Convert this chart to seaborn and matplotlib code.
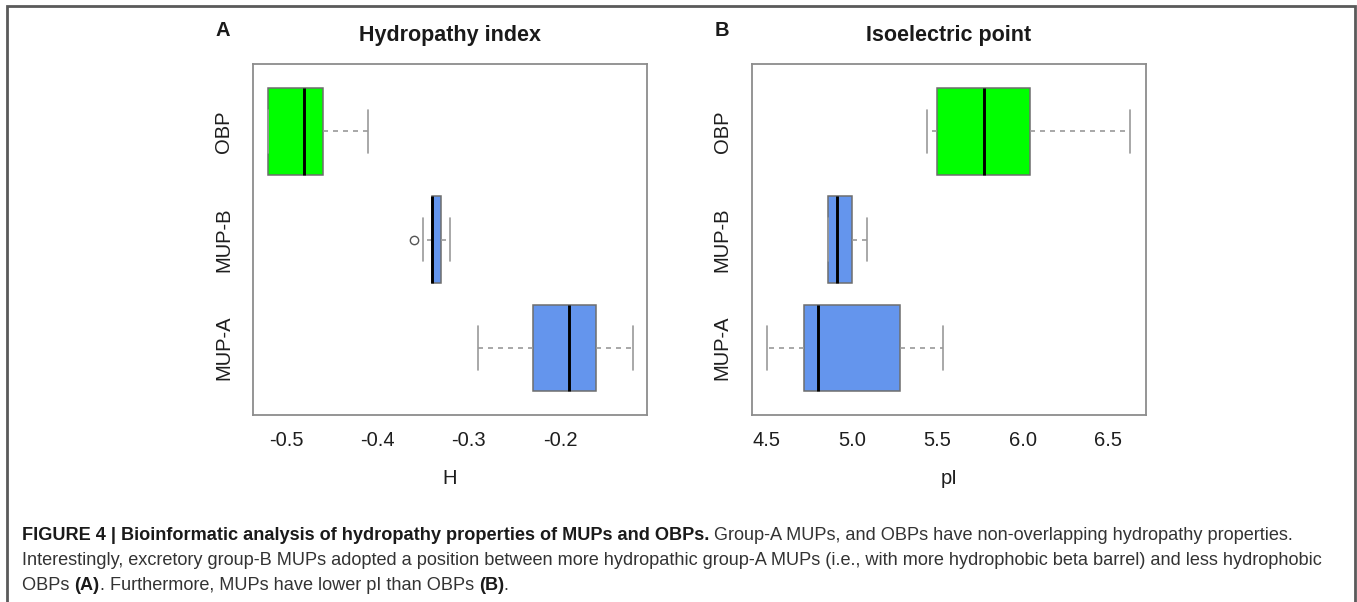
import matplotlib

matplotlib.use("Agg")
import matplotlib.pyplot as plt
import pandas as pd
import seaborn as sns
from matplotlib.patches import Rectangle

# categories, top to bottom as drawn
groups = ["OBP", "MUP-B", "MUP-A"]
colors = ["#00ff00", "#6495ed", "#6495ed"]

# hydropathy index (H) per group, values
h_obp = [-0.52, -0.52, -0.48, -0.46, -0.41]
h_mupb = [-0.36, -0.35, -0.34, -0.34, -0.34, -0.335, -0.33, -0.325, -0.32]
h_mupa = [-0.29, -0.23, -0.19, -0.16, -0.12]

# isoelectric point (pI) per group
pi_obp = [5.44, 5.50, 5.77, 6.04, 6.63]
pi_mupb = [4.86, 4.86, 4.91, 5.00, 5.09]
pi_mupa = [4.50, 4.72, 4.80, 5.28, 5.53]

h_ticks = [-0.5, -0.4, -0.3, -0.2]
pi_ticks = [4.5, 5.0, 5.5, 6.0, 6.5]


def long_frame(values_by_group):
    rows = []
    for name, values in zip(groups, values_by_group):
        rows += [(name, v) for v in values]
    return pd.DataFrame(rows, columns=["group", "value"])


sns.set_theme(style="white")
plt.rcParams["font.family"] = ["Liberation Sans", "DejaVu Sans"]
plt.rcParams["axes.unicode_minus"] = False

fig = plt.figure(figsize=(13.57, 6.02), dpi=100)
W, H = 1357, 602


def px_axes(left, top, right, bottom):
    return fig.add_axes([left / W, 1 - bottom / H, (right - left) / W, (bottom - top) / H])


def draw_panel(ax, df, xlim, ticks, xlabel, title):
    sns.boxplot(
        data=df, x="value", y="group", hue="group", order=groups, hue_order=groups,
        palette=colors, saturation=1, legend=False, width=0.8, whis=1.5,
        linecolor="#6e6e6e", linewidth=1.1,
        whiskerprops=dict(color="#9a9a9a", linestyle=(0, (3, 3)), linewidth=1.2),
        capprops=dict(color="#9a9a9a", linewidth=1.2),
        medianprops=dict(color="black", linewidth=2.1),
        flierprops=dict(marker="o", markersize=6, markerfacecolor="none",
                        markeredgecolor="#555555", markeredgewidth=1.0),
        capwidths=0.4, ax=ax,
    )
    ax.set_xlim(*xlim)
    ax.set_ylim(2.62, -0.62)
    ax.set_xticks(ticks)
    ax.set_xticklabels([f"{t:.1f}" for t in ticks])
    ax.set_yticks(range(len(groups)))
    ax.set_yticklabels(groups, rotation=90, va="center")
    for side in ax.spines.values():
        side.set_visible(True)
        side.set_color("#8c8c8c")
        side.set_linewidth(1.3)
    ax.tick_params(axis="both", direction="out", length=5.5, width=1.0, color="#8c8c8c",
                   labelsize=14.5, labelcolor="#1e1e1e")
    ax.tick_params(axis="x", pad=6)
    ax.tick_params(axis="y", pad=9)
    ax.set_ylabel("")
    ax.set_xlabel(xlabel, fontsize=14.5, color="#1e1e1e", labelpad=14)
    ax.set_title(title, fontsize=15.5, fontweight="bold", color="#1a1a1a", pad=17)


ax_h = px_axes(253.3, 64.3, 646.7, 415)
draw_panel(ax_h, long_frame([h_obp, h_mupb, h_mupa]), (-0.536, -0.105), h_ticks, "H",
           "Hydropathy index")

ax_p = px_axes(751.7, 64.3, 1145.7, 415)
draw_panel(ax_p, long_frame([pi_obp, pi_mupb, pi_mupa]), (4.412, 6.72), pi_ticks, "pI",
           "Isoelectric point")

fig.text(223 / W, 1 - 31 / H, "A", fontsize=14.5, fontweight="bold", ha="center", va="center",
         color="#1a1a1a")
fig.text(722 / W, 1 - 31 / H, "B", fontsize=14.5, fontweight="bold", ha="center", va="center",
         color="#1a1a1a")

# outer frame of the figure
fig.add_artist(Rectangle((7 / W, -0.02), (1355 - 7) / W, 1.02 - 6 / H, transform=fig.transFigure,
                         fill=False, edgecolor="#5a5a5a", linewidth=2.0))

# caption, mixed bold / regular runs
caption = [
    [("FIGURE 4 | Bioinformatic analysis of hydropathy properties of MUPs and OBPs.", "bold"),
     (" Group-A MUPs, and OBPs have non-overlapping hydropathy properties.", "normal")],
    [("Interestingly, excretory group-B MUPs adopted a position between more hydropathic group-A MUPs "
      "(i.e., with more hydrophobic beta barrel) and less hydrophobic", "normal")],
    [("OBPs ", "normal"), ("(A)", "bold"), (". Furthermore, MUPs have lower pI than OBPs ", "normal"),
     ("(B)", "bold"), (".", "normal")],
]
baselines = [540, 565, 590]

renderer = fig.canvas.get_renderer()
for segments, base in zip(caption, baselines):
    x = 22 / W
    for text, weight in segments:
        t = fig.text(x, 1 - base / H, text, fontsize=13.1, fontweight=weight, ha="left",
                     va="baseline", color="#1a1a1a" if weight == "bold" else "#333333")
        x += t.get_window_extent(renderer).width / fig.bbox.width

fig.savefig("out.png", dpi=100)
plt.close(fig)
